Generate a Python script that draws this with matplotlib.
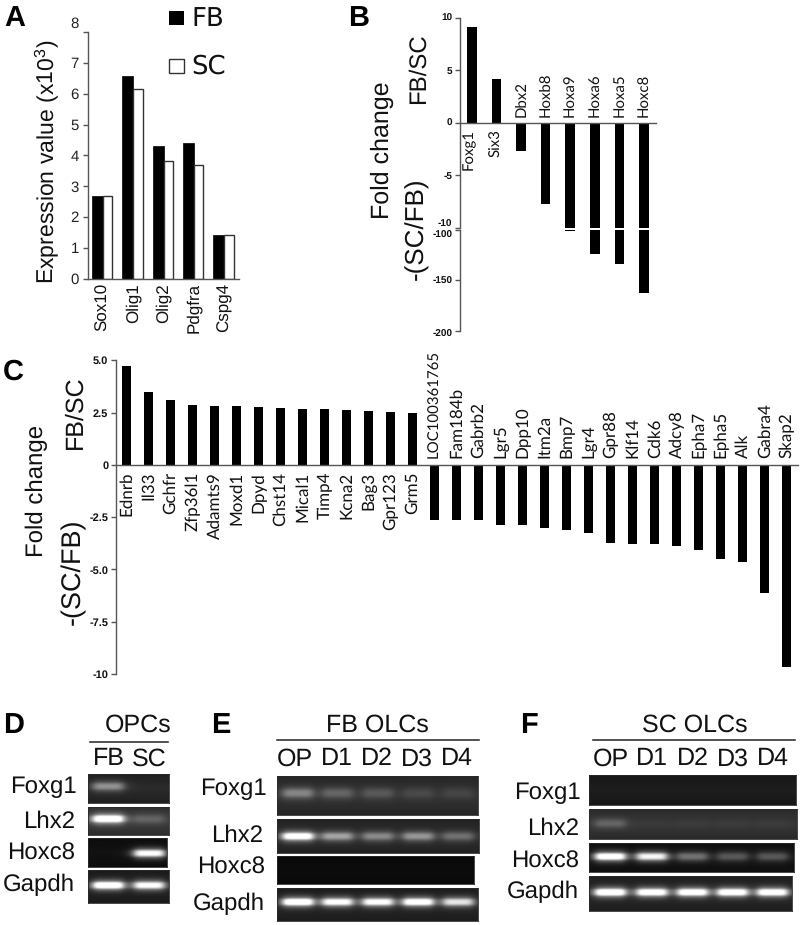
import numpy as np
import matplotlib
matplotlib.use('Agg')
import matplotlib.pyplot as plt
from matplotlib.transforms import ScaledTranslation

plt.rcParams['font.family'] = ['Liberation Sans', 'DejaVu Sans']
plt.rcParams['mathtext.default'] = 'regular'
plt.rcParams['axes.unicode_minus'] = False
plt.rcParams['text.hinting'] = 'no_hinting'
plt.rcParams['text.hinting_factor'] = 1

W, H = 800, 925

# panel A
genes_a = ['Sox10', 'Olig1', 'Olig2', 'Pdgfra', 'Cspg4']
fb_values = [2.67, 6.56, 4.29, 4.40, 1.41]
sc_values = [2.67, 6.15, 3.83, 3.70, 1.41]

# panel B
genes_b = ['Foxg1', 'Six3', 'Dbx2', 'Hoxb8', 'Hoxa9', 'Hoxa6', 'Hoxa5', 'Hoxc8']
fold_b = [9.1, 4.2, -2.7, -7.75, -101, -124, -134, -163]

# panel C
genes_c = ['Ednrb', 'Il33', 'Gchfr', 'Zfp36l1', 'Adamts9', 'Moxd1', 'Dpyd', 'Chst14',
           'Mical1', 'Timp4', 'Kcna2', 'Bag3', 'Gpr123', 'Grm5', 'LOC100361765',
           'Fam184b', 'Gabrb2', 'Lgr5', 'Dpp10', 'Itm2a', 'Bmp7', 'Lgr4', 'Gpr88',
           'Klf14', 'Cdk6', 'Adcy8', 'Epha7', 'Epha5', 'Alk', 'Gabra4', 'Skap2']
fold_c = [4.72, 3.49, 3.09, 2.85, 2.81, 2.81, 2.77, 2.73, 2.68, 2.68, 2.63, 2.58, 2.54, 2.46,
          -2.66, -2.66, -2.66, -2.89, -2.89, -3.03, -3.13, -3.25, -3.72, -3.76, -3.76,
          -3.89, -4.08, -4.48, -4.66, -6.12, -9.66]

# gel band brightness, one value per lane
gel_d = {'Foxg1': [0.50, 0.0], 'Lhx2': [0.95, 0.22], 'Hoxc8': [0.0, 0.95], 'Gapdh': [1.0, 0.9]}
gel_e = {'Foxg1': [0.42, 0.28, 0.22, 0.14, 0.12], 'Lhx2': [0.95, 0.55, 0.45, 0.5, 0.35],
         'Hoxc8': [0, 0, 0, 0, 0], 'Gapdh': [1.0, 0.9, 0.9, 0.95, 0.8]}
gel_f = {'Foxg1': [0, 0, 0, 0, 0], 'Lhx2': [0.25, 0.02, 0.03, 0.03, 0.03],
         'Hoxc8': [1.0, 0.9, 0.45, 0.35, 0.35], 'Gapdh': [1.0, 0.95, 0.95, 0.95, 0.95]}


def px_axes(fig, left, top, right, bottom):
    return fig.add_axes([left / W, 1 - bottom / H, (right - left) / W, (bottom - top) / H])


def put(x, y, s, **kw):
    kw.setdefault('ha', 'center')
    kw.setdefault('va', 'center')
    return fig.text(x / W, 1 - y / H, s, **kw)


def shift_label(ax, label, dy):
    label.set_transform(label.get_transform() + ScaledTranslation(0, dy / 100, fig.dpi_scale_trans))


def style_axis(ax, size, bold=True, color='#555555'):
    for side in ['top', 'right']:
        ax.spines[side].set_visible(False)
    for side in ['left', 'bottom']:
        ax.spines[side].set_color(color)
        ax.spines[side].set_linewidth(1.0)
    ax.tick_params(axis='y', length=3.6, width=1.0, color=color, labelsize=size, pad=2,
                   labelcolor='#111111')
    if bold:
        for lab in ax.get_yticklabels():
            lab.set_fontweight('bold')
    ax.set_xticks([])


def gene_label(ax, i, v, s, size, gap=5, dx=0):
    # labels sit on the other side of the zero line from the bar
    above = v < 0
    ax.annotate(s, xy=(i, 0), xytext=(dx * 0.72, gap * 0.72 if above else -gap * 0.72),
                textcoords='offset points', rotation=90, ha='center',
                va='bottom' if above else 'top', fontsize=size, family='Lato',
                color='#111111', annotation_clip=False)


def draw_gel(left, top, right, bottom, lanes, band_y, levels, bg, band_w=31, band_h=5.4):
    ax = px_axes(fig, left, top, right, bottom)
    xx, yy = np.meshgrid(np.arange(left, right, 0.5), np.arange(top, bottom, 0.5))
    img = np.full(xx.shape, bg, dtype=float)
    # slight darkening towards the top and bottom edge
    img = img * (1 - 0.25 * np.abs((yy - (top + bottom) / 2) / (bottom - top)) * 2)
    for c, level in zip(lanes, levels):
        fx = 1 / (1 + ((xx - c) / (band_w / 2)) ** 6)
        fy = np.exp(-((yy - band_y) / band_h) ** 2)
        core = np.exp(-((yy - band_y) / (band_h * 0.62)) ** 4)
        img += level * fx * (0.62 * fy + 0.42 * core * level)
    ax.imshow(np.clip(img, 0, 1), cmap='gray', vmin=0, vmax=1, aspect='auto',
              extent=[left, right, bottom, top], interpolation='bilinear')
    ax.set_xticks([])
    ax.set_yticks([])
    for sp in ax.spines.values():
        sp.set_color('#2a2a2a')
        sp.set_linewidth(0.6)


fig = plt.figure(figsize=(W / 100, H / 100), dpi=100)

# ---- A ----
ax = px_axes(fig, 88, 32, 239, 278.7)
x = np.arange(len(genes_a))
ax.bar(x - 0.36, fb_values, width=0.36, align='edge', color='black', edgecolor='black', linewidth=0.5)
ax.bar(x, sc_values, width=0.31, align='edge', color='white', edgecolor='#333333', linewidth=1.0)
ax.set_xlim(-0.49, 4.48)
ax.set_ylim(0, 8)
ax.set_yticks(range(9))
style_axis(ax, 11, bold=False)
ax.tick_params(axis='y', labelcolor='#222222', pad=3)
ax.set_xticks(x)
ax.set_xticklabels(genes_a, rotation=90, fontsize=12, color='#111111')
ax.tick_params(axis='x', length=0, pad=3)
ax.spines['left'].set_bounds(0, 8)
shift_label(ax, ax.get_yticklabels()[8], 9.5)

put(47, 162, r'Expression value (x10$^{3}$)', rotation=90, fontsize=16.5, color='#111111')

ax_key = px_axes(fig, 169, 10.7, 184, 25)
ax_key.bar([0], [1], width=1, color='black')
ax_key.set_xlim(-0.5, 0.5)
ax_key.set_ylim(0, 1)
ax_key.axis('off')
ax_key = px_axes(fig, 169, 58.7, 184, 73)
ax_key.bar([0], [1], width=1, color='white', edgecolor='#333333', linewidth=1.0, clip_on=False)
ax_key.set_xlim(-0.5, 0.5)
ax_key.set_ylim(0, 1)
ax_key.axis('off')
put(191, 19, 'FB', ha='left', fontsize=18.5, family='DejaVu Sans', color='#111111')
put(191, 66, 'SC', ha='left', fontsize=18.5, family='DejaVu Sans', color='#111111')

# ---- B, broken axis ----
x = np.arange(len(genes_b))
ax_up = px_axes(fig, 460, 17.7, 656, 227.5)
ax_up.bar(x, fold_b, width=0.39, color='black')
ax_up.set_xlim(-0.48, 7.49)
ax_up.set_ylim(-10, 10)
ax_up.set_yticks([-10, -5, 0, 5, 10])
style_axis(ax_up, 7)
ax_up.spines['bottom'].set_position(('data', 0))
shift_label(ax_up, ax_up.get_yticklabels()[0], 4)
for i, (v, s) in enumerate(zip(fold_b, genes_b)):
    gene_label(ax_up, i, v, s, 10.5, gap=6, dx=-2.5 if i == 0 else 0)

ax_lo = px_axes(fig, 460, 229.5, 656, 331)
ax_lo.bar(x, fold_b, width=0.39, color='black')
ax_lo.set_xlim(-0.48, 7.49)
ax_lo.set_ylim(-200, -100)
ax_lo.set_yticks([-200, -150, -100])
style_axis(ax_lo, 7)
ax_lo.spines['bottom'].set_visible(False)
shift_label(ax_lo, ax_lo.get_yticklabels()[2], -5)
shift_label(ax_lo, ax_lo.get_yticklabels()[0], -2)

put(382, 150, 'Fold change', rotation=90, fontsize=17.7, color='#111111')
put(419, 69, 'FB/SC', rotation=90, fontsize=17, color='#111111')
put(417, 229, '-(SC/FB)', rotation=90, fontsize=18.6, color='#111111')

# ---- C ----
ax = px_axes(fig, 116, 360.3, 798, 674)
x = np.arange(len(genes_c))
ax.bar(x, fold_c, width=0.41, color='black')
ax.set_xlim(-0.486, 30.51)
ax.set_ylim(-10, 5)
ax.set_yticks([-10, -7.5, -5, -2.5, 0, 2.5, 5])
ax.set_yticklabels(['-10', '-7.5', '-5.0', '-2.5', '0', '2.5', '5.0'])
style_axis(ax, 7.8)
ax.spines['bottom'].set_position(('data', 0))
for i, (v, s) in enumerate(zip(fold_c, genes_c)):
    # the long LOC name has wide digits in this font, so it gets a smaller size
    gene_label(ax, i, v, s, 10.8 if len(s) > 10 else 12.2, gap=7)

put(37, 491, 'Fold change', rotation=90, fontsize=17.6, color='#111111')
put(75, 412, 'FB/SC', rotation=90, fontsize=17.8, color='#111111')
put(73, 572, '-(SC/FB)', rotation=90, fontsize=19.4, color='#111111')

# ---- gels ----
lanes_d = [108, 149]
draw_gel(88, 774, 169, 802.7, lanes_d, 786, gel_d['Foxg1'], 0.17)
draw_gel(88, 806.7, 169, 835, lanes_d, 819, gel_d['Lhx2'], 0.24)
draw_gel(88, 838, 167, 866.7, lanes_d, 853, gel_d['Hoxc8'], 0.07)
draw_gel(88, 870, 169, 903, lanes_d, 885, gel_d['Gapdh'], 0.14)

lanes_e = [297.7, 337.3, 377.7, 418, 458]
draw_gel(277, 776, 478, 815, lanes_e, 792.7, gel_e['Foxg1'], 0.20, band_h=6.2)
draw_gel(277, 819, 479, 852.7, lanes_e, 836, gel_e['Lhx2'], 0.18)
draw_gel(277, 856, 474, 884, lanes_e, 870, gel_e['Hoxc8'], 0.05)
draw_gel(277, 888, 478, 921, lanes_e, 901.7, gel_e['Gapdh'], 0.15)

lanes_f = [610, 651.7, 692.3, 732.3, 772.3]
draw_gel(589, 775, 796, 805, lanes_f, 790, gel_f['Foxg1'], 0.12)
draw_gel(589, 809, 797, 838.7, lanes_f, 823, gel_f['Lhx2'], 0.22)
draw_gel(589, 842.7, 794, 872, lanes_f, 856.7, gel_f['Hoxc8'], 0.08)
draw_gel(589, 876, 792, 910.7, lanes_f, 892, gel_f['Gapdh'], 0.16)

for name, rx, y in [('Foxg1', 77, 787), ('Lhx2', 75, 822), ('Hoxc8', 75, 854), ('Gapdh', 75, 885),
                    ('Foxg1', 267, 789), ('Lhx2', 263, 836), ('Hoxc8', 265, 868), ('Gapdh', 265, 904),
                    ('Foxg1', 581, 793), ('Lhx2', 579, 829), ('Hoxc8', 579, 862), ('Gapdh', 579, 892)]:
    put(rx, y, name, ha='right', fontsize=17.3, color='#111111')

for s, cx in [('FB', 109), ('SC', 149), ('OP', 295), ('D1', 337), ('D2', 377), ('D3', 417), ('D4', 457),
              ('OP', 611), ('D1', 652), ('D2', 693), ('D3', 733), ('D4', 773)]:
    put(cx, 759, s, fontsize=18, color='#111111')

for s, cx in [('OPCs', 138), ('FB OLCs', 377), ('SC OLCs', 695)]:
    put(cx, 725.5, s, fontsize=18, color='#111111')

for x0, x1, y in [(90, 168, 741.7), (277, 479, 740), (592.7, 795, 740)]:
    fig.add_artist(plt.Line2D([x0 / W, x1 / W], [1 - y / H, 1 - y / H], color='#222222', lw=1.1))

# panel letters
for s, x0, y in [('A', 4, 18.5), ('B', 348, 18.5), ('C', 3, 372.5),
                 ('D', 3, 725.5), ('E', 211, 725.5), ('F', 520, 725.5)]:
    put(x0, y, s, ha='left', fontsize=21, fontweight='bold', color='black')

fig.savefig('out.png', dpi=100)
